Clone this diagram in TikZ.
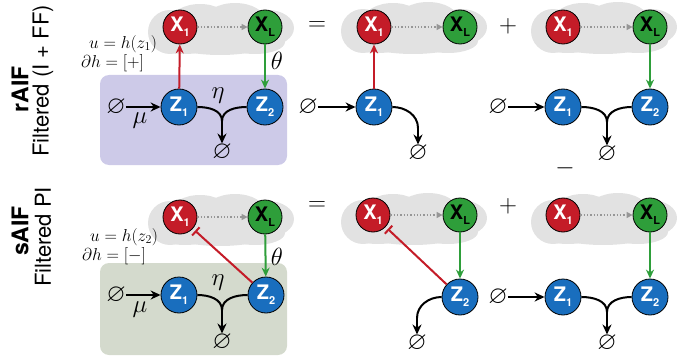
\documentclass[tikz,border=0pt]{standalone}
\usepackage{amssymb}
\usepackage{fontspec}
\setsansfont{TeX Gyre Heros}
\usetikzlibrary{arrows.meta}
\definecolor{xred}{RGB}{196,28,40}
\definecolor{xgreen}{RGB}{46,158,58}
\definecolor{zblue}{RGB}{25,110,190}
\definecolor{cloudgray}{RGB}{226,226,226}
\definecolor{boxpurple}{RGB}{205,202,232}
\definecolor{boxgreen}{RGB}{212,218,205}
\definecolor{dotgray}{RGB}{150,150,150}
\begin{document}
\begin{tikzpicture}[x=1pt,y=-1pt,
  nd/.style={circle, draw=black, line width=0.8pt, minimum size=34pt, inner sep=0pt,
     font=\sffamily\bfseries\fontsize{20}{20}\selectfont},
  xr/.style={nd, fill=xred, text=white},
  xg/.style={nd, fill=xgreen, text=black},
  zb/.style={nd, fill=zblue, text=white, minimum size=36pt},
  empt/.style={inner sep=0pt, font=\fontsize{25}{25}\selectfont},
  mlab/.style={inner sep=0pt, align=left, font=\fontsize{18}{19}\selectfont},
  glab/.style={inner sep=0pt, font=\fontsize{23}{23}\selectfont},
  opsym/.style={inner sep=0pt, font=\fontsize{24}{24}\selectfont},
  rowlab/.style={inner sep=0pt, rotate=90, font=\sffamily\fontsize{22}{22}\selectfont},
  rowbold/.style={inner sep=0pt, rotate=90, font=\sffamily\bfseries\fontsize{23}{23}\selectfont},
  dotarr/.style={dotgray, dotted, line width=1.3pt, -{Triangle[length=6pt,width=6pt]}},
  redarr/.style={xred, line width=2pt, -{Stealth[length=9pt,width=8pt]}},
  grnarr/.style={xgreen, line width=2pt, -{Stealth[length=9pt,width=8pt]}},
  inhib/.style={xred, line width=2pt, -{Bar[width=11pt,line width=2pt]}, shorten >=3pt},
  blkarr/.style={black, line width=2pt, -{Stealth[length=10pt,width=9pt]}},
  blk/.style={black, line width=2pt},
  cloudbg/.pic={
    \fill[cloudgray] (-50,2) circle[radius=22];
    \fill[cloudgray] (-20,-8) ellipse[x radius=30,y radius=18];
    \fill[cloudgray] (15,-10) ellipse[x radius=30,y radius=17];
    \fill[cloudgray] (48,-2) ellipse[x radius=26,y radius=18];
    \fill[cloudgray] (0,10) ellipse[x radius=55,y radius=15];
    \fill[cloudgray] (-35,12) ellipse[x radius=30,y radius=12];
    \fill[cloudgray] (35,12) ellipse[x radius=30,y radius=12];
  }
]
\useasboundingbox (0,0) rectangle (680,361);

% row labels
\node[rowbold] (lr) at (20,89) {rAIF};
\node[rowlab] (lrf) at (43,81) {Filtered (I + FF)};
\node[rowbold] (ls) at (20,231) {sAIF};
\node[rowlab] (lsf) at (43,237) {Filtered PI};

% boxes
\fill[boxpurple, rounded corners=9pt] (100,75) rectangle (287,165);
\fill[boxgreen, rounded corners=9pt] (100,263) rectangle (287,355);

% clouds
\pic at (220,30) {cloudbg};
\pic at (413,29) {cloudbg};
\pic at (603,29) {cloudbg};
\pic at (220,221) {cloudbg};
\pic at (413,220) {cloudbg};
\pic at (603,220) {cloudbg};

% ================= TOP ROW =================
% panel A
\node[xr] (ax1) at (180,27) {X\raisebox{-5pt}{\fontsize{11}{11}\selectfont 1}};
\node[xg] (axl) at (265,27) {X\raisebox{-5pt}{\fontsize{11}{11}\selectfont L}};
\node[zb] (az1) at (179,107) {Z\raisebox{-5pt}{\fontsize{11}{11}\selectfont 1}};
\node[zb] (az2) at (265,107) {Z\raisebox{-5pt}{\fontsize{11}{11}\selectfont 2}};
\node[empt] (ae0) at (116,107) {$\varnothing$};
\node[empt] (ae1) at (222,152) {$\varnothing$};
\coordinate (am) at (222,121);
\draw[dotarr] (ax1) -- (axl);
\draw[redarr] (az1) -- (ax1);
\draw[grnarr] (axl) -- (az2);
\draw[blkarr] (ae0) -- (az1);
\draw[blk] (az1.east) to[out=0,in=90] (am);
\draw[blk] (az2.west) to[out=180,in=90] (am);
\draw[blkarr] (am) -- (ae1.north);
\node[glab] (amu) at (140,121) {$\mu$};
\node[glab] (aeta) at (218,96) {$\eta$};
\node[glab] (ath) at (277,61) {$\theta$};
\node[mlab, anchor=north west] (au) at (81,35) {\hspace*{8pt}$u = h(z_1)$\\$\partial h = [+]$};

\node[opsym] (aeq) at (317,26) {$=$};
% panel B
\node[xr] (bx1) at (374,27) {X\raisebox{-5pt}{\fontsize{11}{11}\selectfont 1}};
\node[xg] (bxl) at (460,27) {X\raisebox{-5pt}{\fontsize{11}{11}\selectfont L}};
\node[zb] (bz1) at (374,107) {Z\raisebox{-5pt}{\fontsize{11}{11}\selectfont 1}};
\node[empt] (be0) at (308,107) {$\varnothing$};
\node[empt] (be1) at (418,153) {$\varnothing$};
\coordinate (bm) at (418,128);
\draw[dotarr] (bx1) -- (bxl);
\draw[redarr] (bz1) -- (bx1);
\draw[blkarr] (be0) -- (bz1);
\draw[blk] (bz1.east) to[out=0,in=90] (bm);
\draw[blkarr] (bm) -- (be1.north);

\node[opsym] (aplus) at (508,26) {$+$};
% panel C
\node[xr] (cx1) at (563,27) {X\raisebox{-5pt}{\fontsize{11}{11}\selectfont 1}};
\node[xg] (cxl) at (650,27) {X\raisebox{-5pt}{\fontsize{11}{11}\selectfont L}};
\node[zb] (cz1) at (563,107) {Z\raisebox{-5pt}{\fontsize{11}{11}\selectfont 1}};
\node[zb] (cz2) at (650,107) {Z\raisebox{-5pt}{\fontsize{11}{11}\selectfont 2}};
\node[empt] (ce0) at (498,107) {$\varnothing$};
\node[empt] (ce1) at (607,154) {$\varnothing$};
\coordinate (cm) at (607,122);
\draw[dotarr] (cx1) -- (cxl);
\draw[grnarr] (cxl) -- (cz2);
\draw[blkarr] (ce0) -- (cz1);
\draw[blk] (cz1.east) to[out=0,in=90] (cm);
\draw[blk] (cz2.west) to[out=180,in=90] (cm);
\draw[blkarr] (cm) -- (ce1.north);
\node[opsym] (cminus) at (565,168) {$-$};

% ================= BOTTOM ROW =================
% panel D
\node[xr] (dx1) at (180,217) {X\raisebox{-5pt}{\fontsize{11}{11}\selectfont 1}};
\node[xg] (dxl) at (265,217) {X\raisebox{-5pt}{\fontsize{11}{11}\selectfont L}};
\node[zb] (dz1) at (179,295) {Z\raisebox{-5pt}{\fontsize{11}{11}\selectfont 1}};
\node[zb] (dz2) at (266,295) {Z\raisebox{-5pt}{\fontsize{11}{11}\selectfont 2}};
\node[empt] (de0) at (116,295) {$\varnothing$};
\node[empt] (de1) at (222,342) {$\varnothing$};
\coordinate (dm) at (222,310);
\draw[dotarr] (dx1) -- (dxl);
\draw[inhib] (dz2) -- (dx1);
\draw[grnarr] (dxl) -- (dz2);
\draw[blkarr] (de0) -- (dz1);
\draw[blk] (dz1.east) to[out=0,in=90] (dm);
\draw[blk] (dz2.west) to[out=180,in=90] (dm);
\draw[blkarr] (dm) -- (de1.north);
\node[glab] (dmu) at (140,310) {$\mu$};
\node[glab] (deta) at (218,283) {$\eta$};
\node[glab] (dth) at (277,257) {$\theta$};
\node[mlab, anchor=north west] (du) at (82,228) {\hspace*{8pt}$u = h(z_2)$\\$\partial h = [-]$};

\node[opsym] (deq) at (317,206) {$=$};
% panel E
\node[xr] (ex1) at (373,215) {X\raisebox{-5pt}{\fontsize{11}{11}\selectfont 1}};
\node[xg] (exl) at (460,215) {X\raisebox{-5pt}{\fontsize{11}{11}\selectfont L}};
\node[zb] (ez2) at (460,297) {Z\raisebox{-5pt}{\fontsize{11}{11}\selectfont 2}};
\node[empt] (ee1) at (417,343) {$\varnothing$};
\coordinate (em) at (417,318);
\draw[dotarr] (ex1) -- (exl);
\draw[inhib] (ez2) -- (ex1);
\draw[grnarr] (exl) -- (ez2);
\draw[blk] (ez2.west) to[out=180,in=90] (em);
\draw[blkarr] (em) -- (ee1.north);

\node[opsym] (dplus) at (508,206) {$+$};
% panel F
\node[xr] (fx1) at (563,215) {X\raisebox{-5pt}{\fontsize{11}{11}\selectfont 1}};
\node[xg] (fxl) at (650,215) {X\raisebox{-5pt}{\fontsize{11}{11}\selectfont L}};
\node[zb] (fz1) at (563,297) {Z\raisebox{-5pt}{\fontsize{11}{11}\selectfont 1}};
\node[zb] (fz2) at (650,297) {Z\raisebox{-5pt}{\fontsize{11}{11}\selectfont 2}};
\node[empt] (fe0) at (498,297) {$\varnothing$};
\node[empt] (fe1) at (607,343) {$\varnothing$};
\coordinate (fm) at (607,312);
\draw[dotarr] (fx1) -- (fxl);
\draw[grnarr] (fxl) -- (fz2);
\draw[blkarr] (fe0) -- (fz1);
\draw[blk] (fz1.east) to[out=0,in=90] (fm);
\draw[blk] (fz2.west) to[out=180,in=90] (fm);
\draw[blkarr] (fm) -- (fe1.north);
\end{tikzpicture}
\end{document}
